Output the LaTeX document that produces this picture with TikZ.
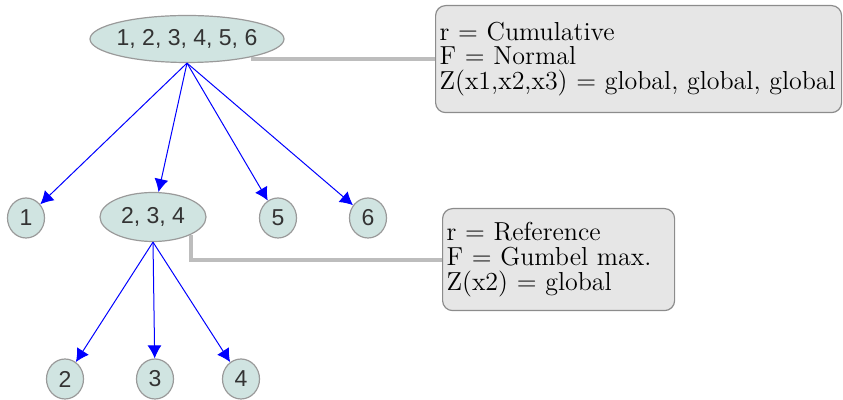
\documentclass[tikz,border=0pt]{standalone}
\usepackage{fontspec}
\usepackage{xcolor}
\usepackage{tikz}
\usetikzlibrary{arrows.meta,shapes.geometric}
\newfontfamily\labelfont{Liberation Sans}
\definecolor{TreeFill}{HTML}{D0E4E1}
\definecolor{TreeBorder}{HTML}{9A9A9A}
\definecolor{TreeText}{HTML}{333333}
\definecolor{NoteFill}{HTML}{E6E6E6}
\definecolor{NoteBorder}{HTML}{8C8C8C}
\definecolor{NoteLink}{HTML}{BDBDBD}

\begin{document}
\begin{tikzpicture}[x=0.5pt,y=-0.5pt,
  treenode/.style={ellipse, fill=TreeFill, draw=TreeBorder, line width=0.6pt, inner sep=0pt,
    font=\labelfont\fontsize{11.5}{13}\selectfont, text=TreeText},
  leaf/.style={treenode, minimum width=18.5pt, minimum height=20pt},
  branch/.style={draw=blue, line width=0.5pt, -{Latex[length=6.5pt,width=7pt]}},
  note/.style={rounded corners=5pt, fill=NoteFill, draw=NoteBorder, line width=0.6pt,
    anchor=north west, align=left, inner ysep=0pt, font=\fontsize{13}{12.3}\selectfont},
  link/.style={draw=NoteLink, line width=2pt}]
  \useasboundingbox (0,0) rectangle (843,400);

  % tree
  \node[treenode, minimum width=97pt, minimum height=23.5pt, inner xsep=-1pt] (root) at (187,39) {1, 2, 3, 4, 5, 6};
  \node[leaf] (n1) at (26,218) {1};
  \node[treenode, minimum width=53pt, minimum height=24.5pt] (n234) at (153,217) {2, 3, 4};
  \node[leaf] (n5) at (278,218) {5};
  \node[leaf] (n6) at (368,218) {6};
  \node[leaf] (n2) at (65,379) {2};
  \node[leaf] (n3) at (155,379) {3};
  \node[leaf] (n4) at (241,379) {4};

  \foreach \child in {n1,n234,n5,n6}
    \draw[branch] (root.south) -- (\child);
  \foreach \child in {n2,n3,n4}
    \draw[branch] (n234.south) -- (\child);

  % notes
  \node[note, text width=199pt, inner xsep=2pt, minimum height=53.5pt] (noteA) at (435,5)
    {r = Cumulative\\F = Normal\\Z(x1,x2,x3) = global, global, global};
  \node[note, text width=112pt, inner xsep=2pt, minimum height=51pt] (noteB) at (442,208)
    {r = Reference\\F = Gumbel max.\\Z(x2) = global};

  \draw[link] (root.-16 |- noteA.west) -- (noteA.west);
  \draw[link] (n234.-25) |- (noteB.west);
\end{tikzpicture}
\end{document}
